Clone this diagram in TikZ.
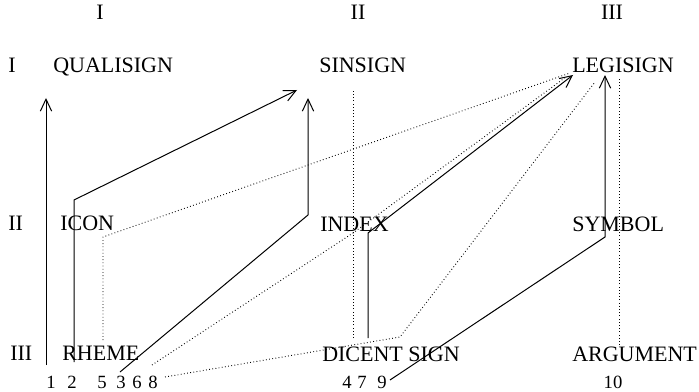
\documentclass[tikz,border=0pt]{standalone}
\usepackage{fontspec}
\setmainfont{Liberation Serif}
\usetikzlibrary{arrows.meta}

\begin{document}
\begin{tikzpicture}[x=0.75pt,y=0.75pt,yscale=-1,xscale=1,
  lbl/.style={font=\fontsize{16.5}{18}\selectfont, inner sep=0pt, anchor=base west},
  hdr/.style={font=\fontsize{16.5}{18}\selectfont, inner sep=0pt, anchor=base},
  num/.style={font=\fontsize{14}{16}\selectfont, inner sep=0pt, anchor=base},
  firm/.style={line width=0.75pt, -{Straight Barb[length=9pt,width=8.5pt]}},
  faint/.style={line width=0.7pt, dash pattern=on 0.6pt off 1.8pt}]
\useasboundingbox (0,0) rectangle (699,392);

% Text Node: column heads
\node (hI) [hdr] at (100,20) {I};
\node (hII) [hdr] at (358,20) {II};
\node (hIII) [hdr] at (612,20) {III};
% Text Node: row heads
\node (rI) [lbl] at (8,73) {I};
\node (rII) [lbl] at (8,230) {II};
\node (rIII) [lbl] at (10,360) {III};
% Text Node: grid
\node (qual) [lbl] at (53,73) {QUALISIGN};
\node (sin) [lbl] at (319,73) {SINSIGN};
\node (leg) [lbl] at (572,73) {LEGISIGN};
\node (icon) [lbl] at (60,230) {ICON};
\node (index) [lbl] at (320,231) {INDEX};
\node (symbol) [lbl] at (572,231) {SYMBOL};
\node (rheme) [lbl] at (62,360) {RHEME};
\node (dicent) [lbl] at (322,361) {DICENT SIGN};
\node (arg) [lbl] at (572,361) {ARGUMENT};
% Text Node: class numbers
\node (n1) [num] at (51,388) {1};
\node (n2) [num] at (72,388) {2};
\node (n5) [num] at (102,388) {5};
\node (n3) [num] at (121,388) {3};
\node (n6) [num] at (137,388) {6};
\node (n8) [num] at (153,388) {8};
\node (n4) [num] at (347,388) {4};
\node (n7) [num] at (362,388) {7};
\node (n9) [num] at (382,388) {9};
\node (n10) [num] at (613,388) {10};

% Points of the class paths
\coordinate (a1) at (46,365);   \coordinate (t1) at (46,98);
\coordinate (a2) at (74,362);   \coordinate (k2) at (74,200);   \coordinate (t2) at (297,90);
\coordinate (a3) at (120,372);  \coordinate (k3) at (308,215);  \coordinate (t3) at (308,98);
\coordinate (a4) at (353,338);  \coordinate (t4) at (353,90);
\coordinate (a5) at (103,340);  \coordinate (k5) at (103,237);  \coordinate (t5) at (570,73);
\coordinate (a6) at (152,365);  \coordinate (k6) at (353,233);  \coordinate (t6) at (566,77);
\coordinate (a7) at (368,338);  \coordinate (k7) at (368,233);  \coordinate (t7) at (573,75);
\coordinate (a8) at (165,377);  \coordinate (k8) at (400,337);  \coordinate (t8) at (595,82);
\coordinate (a9) at (390,380);  \coordinate (k9) at (605,237);  \coordinate (t9) at (605,75);
\coordinate (a10) at (619,345); \coordinate (t10) at (619,78);

%Straight Lines
\draw [firm] (a1) -- (t1);
\draw [firm] (a2) -- (k2) -- (t2);
\draw [firm] (a3) -- (k3) -- (t3);
\draw [faint] (a4) -- (t4);
\draw [faint] (a5) -- (k5) -- (t5);
\draw [faint] (a6) -- (k6) -- (t6);
\draw [firm] (a7) -- (k7) -- (t7);
\draw [faint] (a8) -- (k8) -- (t8);
\draw [firm] (a9) -- (k9) -- (t9);
\draw [faint] (a10) -- (t10);

\end{tikzpicture}
\end{document}
